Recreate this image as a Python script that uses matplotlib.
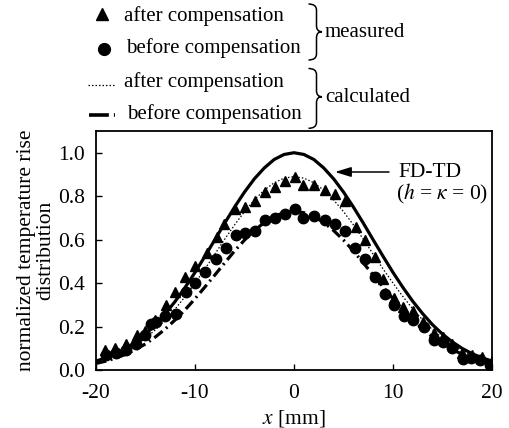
import matplotlib
matplotlib.use("Agg")
import matplotlib.pyplot as plt
from matplotlib.path import Path
from matplotlib.patches import PathPatch
from matplotlib.lines import Line2D

plt.rcParams['font.family'] = ['Liberation Serif', 'DejaVu Serif']
plt.rcParams['mathtext.fontset'] = 'stix'
plt.rcParams['axes.unicode_minus'] = False

# ---------------- data ----------------
# measured, after compensation (triangles)
tri_x = [-19.1, -18.1, -17.0, -15.9, -15.0, -14.0, -12.9, -12.0, -11.0, -10.0,
         -8.8, -7.8, -7.1, -6.0, -4.9, -3.9, -2.9, -1.9, -0.9, 0.1,
         0.9, 2.0, 3.1, 4.1, 5.2, 6.3, 7.2, 8.2, 9.0, 10.1,
         11.0, 12.0, 13.0, 14.1, 15.0, 16.0, 17.0, 18.0, 19.0, 20.0]
tri_y = [0.09, 0.10, 0.12, 0.16, 0.18, 0.23, 0.30, 0.36, 0.43, 0.48,
         0.54, 0.61, 0.67, 0.74, 0.75, 0.78, 0.82, 0.84, 0.87, 0.89,
         0.85, 0.85, 0.83, 0.81, 0.78, 0.66, 0.60, 0.52, 0.42, 0.33,
         0.29, 0.27, 0.22, 0.17, 0.15, 0.12, 0.08, 0.07, 0.06, 0.04]

# measured, before compensation (circles)
cir_x = [-19.0, -18.0, -17.0, -16.0, -15.0, -14.4, -13.9, -13.0, -11.9, -10.9,
         -10.0, -9.0, -7.9, -6.9, -5.9, -4.9, -3.9, -2.9, -1.9, -0.9, 0.1,
         0.9, 2.0, 3.1, 4.1, 5.2, 6.2, 7.2, 8.2, 9.2, 10.1,
         11.1, 12.0, 13.1, 14.1, 15.0, 16.0, 17.1, 17.9, 18.8, 19.8]
cir_y = [0.07, 0.08, 0.09, 0.12, 0.16, 0.21, 0.22, 0.25, 0.26, 0.36,
         0.40, 0.45, 0.51, 0.56, 0.62, 0.63, 0.64, 0.69, 0.70, 0.72, 0.74,
         0.70, 0.71, 0.69, 0.67, 0.64, 0.56, 0.51, 0.43, 0.35, 0.30,
         0.25, 0.23, 0.20, 0.14, 0.13, 0.10, 0.05, 0.055, 0.046, 0.025]

# calculated curves, sampled every 1 mm
calc_x = list(range(-20, 21))
fdtd_y = [0.041, 0.056, 0.075, 0.099, 0.129, 0.165, 0.208, 0.259, 0.316, 0.380,
          0.449, 0.523, 0.599, 0.676, 0.750, 0.819, 0.880, 0.930, 0.969, 0.992,
          1.000,
          0.992, 0.969, 0.930, 0.880, 0.819, 0.750, 0.676, 0.599, 0.523, 0.449,
          0.380, 0.316, 0.259, 0.208, 0.165, 0.129, 0.099, 0.075, 0.056, 0.041]
calc_after_y = [0.037, 0.050, 0.067, 0.088, 0.115, 0.147, 0.185, 0.230, 0.281, 0.338,
                0.400, 0.465, 0.533, 0.602, 0.668, 0.729, 0.783, 0.828, 0.862, 0.883,
                0.890,
                0.883, 0.862, 0.828, 0.783, 0.729, 0.668, 0.602, 0.533, 0.465, 0.400,
                0.338, 0.281, 0.230, 0.185, 0.147, 0.115, 0.088, 0.067, 0.050, 0.037]
calc_before_y = [0.030, 0.041, 0.055, 0.072, 0.094, 0.120, 0.152, 0.189, 0.231, 0.277,
                 0.328, 0.382, 0.437, 0.493, 0.548, 0.598, 0.642, 0.679, 0.707, 0.724,
                 0.730,
                 0.724, 0.707, 0.679, 0.642, 0.598, 0.548, 0.493, 0.437, 0.382, 0.328,
                 0.277, 0.231, 0.189, 0.152, 0.120, 0.094, 0.072, 0.055, 0.041, 0.030]

xticks = [-20, -10, 0, 10, 20]
yticks = [0.0, 0.2, 0.4, 0.6, 0.8, 1.0]

# ---------------- styles ----------------
W, H = 509, 428
FS = 15.5
dashdot = (0, (3.3, 1.4, 0.6, 1.4))

fig = plt.figure(figsize=(W / 100, H / 100), dpi=100)
ax = fig.add_axes([96 / W, 58 / H, 396 / W, 239 / H])

ax.plot(calc_x, fdtd_y, color='black', lw=2.3, solid_capstyle='butt', zorder=3)
ax.plot(calc_x, calc_after_y, color='black', lw=0.9, linestyle=(0, (1.2, 1.6)), zorder=3)
ax.plot(calc_x, calc_before_y, color='black', lw=2.3, linestyle=dashdot, zorder=3)
ax.plot(tri_x, tri_y, linestyle='none', marker='^', color='black', markersize=7.5, zorder=4)
ax.plot(cir_x, cir_y, linestyle='none', marker='o', color='black', markersize=7.5, zorder=4)

ax.set_xlim(-20, 20)
ax.set_ylim(0, 1.1)
ax.set_xticks(xticks)
ax.set_xticklabels([str(t) for t in xticks])
ax.set_yticks(yticks)
ax.set_yticklabels([f"{t:.1f}" for t in yticks])
ax.tick_params(direction='in', length=4, width=1.0, labelsize=FS)
ax.tick_params(axis='x', pad=10)
ax.tick_params(axis='y', pad=8)
for s in ax.spines.values():
    s.set_linewidth(1.3)

ax.set_xlabel(r'$x$ [mm]', fontsize=FS, labelpad=4)
ax.set_ylabel('normalized temperature rise\ndistribution', fontsize=FS,
              linespacing=1.0, labelpad=2)

# ---------------- overlay in pixel coordinates ----------------
ov = fig.add_axes([0, 0, 1, 1], facecolor='none')
ov.set_xlim(0, W)
ov.set_ylim(H, 0)
ov.axis('off')

# legend samples
ov.add_line(Line2D([101.7], [13.5], marker='^', color='black', markersize=8, linestyle='none'))
ov.add_line(Line2D([104], [48.5], marker='o', color='black', markersize=8.5, linestyle='none'))
ov.add_line(Line2D([88, 114], [85, 85], color='black', lw=0.9, linestyle=(0, (1.2, 1.6))))
ov.add_line(Line2D([89, 115], [115, 115], color='black', lw=2.6, linestyle=(0, (5.5, 1.4, 3.0, 2))))

lfs = 15
ov.text(124, 20.5, 'after compensation', fontsize=lfs, va='baseline', ha='left')
ov.text(126, 53, 'before compensation', fontsize=lfs, va='baseline', ha='left')
ov.text(124, 87, 'after compensation', fontsize=lfs, va='baseline', ha='left')
ov.text(127, 119, 'before compensation', fontsize=lfs, va='baseline', ha='left')
ov.text(325, 37, 'measured', fontsize=lfs, va='baseline', ha='left')
ov.text(325, 102, 'calculated', fontsize=lfs, va='baseline', ha='left')


def brace(x0, xv, xm, yt, ym, yb, r=6):
    verts = [(x0, yt), (xv, yt), (xv, yt + r),
             (xv, ym - r), (xv, ym), (xm, ym),
             (xv, ym), (xv, ym + r),
             (xv, yb - r), (xv, yb), (x0, yb)]
    codes = [Path.MOVETO, Path.CURVE3, Path.CURVE3,
             Path.LINETO, Path.CURVE3, Path.CURVE3,
             Path.CURVE3, Path.CURVE3,
             Path.LINETO, Path.CURVE3, Path.CURVE3]
    ov.add_patch(PathPatch(Path(verts, codes), facecolor='none',
                           edgecolor='black', lw=1.1))


brace(308.5, 316.5, 322, 4, 31.7, 60)
brace(308.5, 316.5, 322, 68.5, 96.7, 128.3)

# FD-TD annotation
ov.annotate('', xy=(335, 172), xytext=(389, 172),
            arrowprops=dict(arrowstyle='-|>,head_length=0.65,head_width=0.2',
                            color='black', lw=1.1, mutation_scale=15,
                            shrinkA=0, shrinkB=0))
ov.text(398, 172, 'FD-TD', fontsize=FS, va='center', ha='left')
ov.text(396, 194, r'($h$ = $\kappa$ = 0)', fontsize=FS, va='center', ha='left')

fig.savefig('out.png', dpi=100)
